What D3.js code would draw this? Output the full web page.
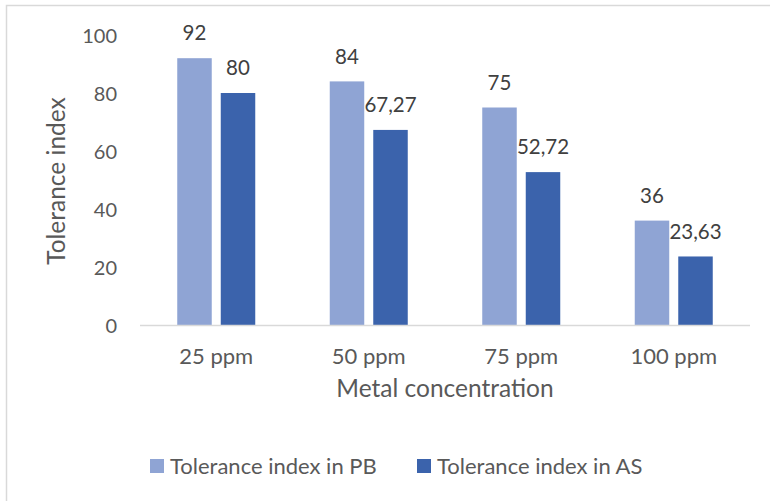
<!DOCTYPE html>
<html>
<head>
<meta charset="utf-8">
<script src="https://cdn.jsdelivr.net/npm/d3@7"></script>
<style>
  html, body { margin: 0; padding: 0; background: #fff; }
  svg { display: block; }
  text { font-family: Lato, "Open Sans", sans-serif; }
</style>
</head>
<body>
<script>
const categories = ["25 ppm", "50 ppm", "75 ppm", "100 ppm"];
const seriesNames = ["Tolerance index in PB", "Tolerance index in AS"];
const valuesPB = [92, 84, 75, 36];
const valuesAS = [80, 67.27, 52.72, 23.63];
const labelsPB = ["92", "84", "75", "36"];
const labelsAS = ["80", "67,27", "52,72", "23,63"];
const yTicks = [0, 20, 40, 60, 80, 100];
const colors = ["#8fa4d4", "#3b63ac"];

const W = 770, H = 501;
const svg = d3.select("body").append("svg").attr("width", W).attr("height", H);

// chart border (top & left visible)
svg.append("rect").attr("x", 6.5).attr("y", 5.5).attr("width", W + 20).attr("height", H + 20)
  .attr("fill", "#fff").attr("stroke", "#d9d9d9").attr("stroke-width", 1.5);

const x0 = d3.scaleBand().domain(categories).range([140, 750]).paddingInner(0.4885).paddingOuter(0.24425);
const x1 = d3.scaleBand().domain(seriesNames).range([0, x0.bandwidth()]).paddingInner(0.207).paddingOuter(0);
const y = d3.scaleLinear().domain([0, 100]).range([325, 35]);

const series = [valuesPB, valuesAS];
const labels = [labelsPB, labelsAS];

const data = [];
categories.forEach((c, i) => {
  seriesNames.forEach((s, j) => {
    data.push({cat: c, ser: s, v: series[j][i], lab: labels[j][i], color: colors[j]});
  });
});

// y axis labels
const yAxis = d3.axisLeft(y).tickValues(yTicks).tickSize(0).tickPadding(0).tickFormat(d3.format("d"));
const gy = svg.append("g").attr("transform", "translate(117,0)").call(yAxis);
gy.select(".domain").remove();
gy.selectAll("text").attr("fill", "#595959").style("font-size", "20px").style("font-family", "Lato").attr("dy", "0.35em");

// bars
svg.append("g").selectAll("rect").data(data).join("rect")
  .attr("x", d => x0(d.cat) + x1(d.ser))
  .attr("y", d => y(d.v))
  .attr("width", x1.bandwidth())
  .attr("height", d => y(0) - y(d.v))
  .attr("fill", d => d.color);

// baseline
svg.append("line").attr("x1", 140).attr("x2", 750).attr("y1", y(0) + 0.5).attr("y2", y(0) + 0.5)
  .attr("stroke", "#d9d9d9").attr("stroke-width", 1.5);

// value labels
svg.append("g").selectAll("text").data(data).join("text")
  .attr("x", d => x0(d.cat) + x1(d.ser) + x1.bandwidth() / 2)
  .attr("y", d => y(d.v) - 25)
  .attr("dy", "0.35em")
  .attr("text-anchor", "middle")
  .attr("fill", "#404040")
  .style("font-size", "20.5px")
  .text(d => d.lab);

// x axis labels
const xAxis = d3.axisBottom(x0).tickSize(0).tickPadding(0);
const gx = svg.append("g").attr("transform", "translate(0,356)").call(xAxis);
gx.select(".domain").remove();
gx.selectAll("text").attr("fill", "#595959").style("font-size", "22px").style("font-family", "Lato").attr("dy", "0.35em");

// axis titles
svg.append("text").attr("x", 445).attr("y", 388).attr("dy", "0.35em").attr("text-anchor", "middle")
  .attr("fill", "#595959").style("font-size", "24.5px").text("Metal concentration");
svg.append("text").attr("transform", "translate(56,181) rotate(-90)").attr("dy", "0.35em").attr("text-anchor", "middle")
  .attr("fill", "#595959").style("font-size", "24.5px").text("Tolerance index");

// legend
const legendX = [150, 417];
const lg = svg.append("g").selectAll("g").data(seriesNames).join("g")
  .attr("transform", (d, i) => `translate(${legendX[i]},466)`);
lg.append("rect").attr("x", 0).attr("y", -7).attr("width", 14).attr("height", 14).attr("fill", (d, i) => colors[i]);
lg.append("text").attr("x", 20).attr("dy", "0.35em").attr("fill", "#595959").style("font-size", "22px").text(d => d);
</script>
</body>
</html>
